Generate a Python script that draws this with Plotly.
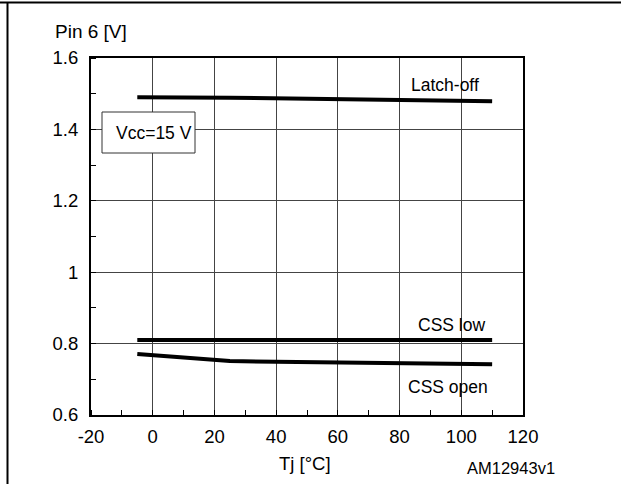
import plotly.graph_objects as go

# Data
temps_latch = [-5, 25, 110]
latch_off = [1.490, 1.489, 1.479]
temps_low = [-5, 25, 110]
css_low = [0.810, 0.810, 0.810]
temps_open = [-5, 25, 110]
css_open = [0.771, 0.751, 0.742]

x_ticks = [-20, 0, 20, 40, 60, 80, 100, 120]
x_ticktext = ["-20", "0", "20", "40", "60", "80", "100", "120"]
y_ticks = [0.6, 0.8, 1.0, 1.2, 1.4, 1.6]
y_ticktext = ["0.6", "0.8", "1", "1.2", "1.4", "1.6"]

W, H = 621, 484
L, R, T, B = 91, 98, 58, 69
PW, PH = W - L - R, H - T - B

def px(x):
    return (x - L) / PW

def py(y):
    return (H - B - y) / PH

FONT = "Arial, Liberation Sans, sans-serif"
line_style = dict(color="black", width=4)

fig = go.Figure()
for xs, ys, name in [(temps_latch, latch_off, "Latch-off"),
                     (temps_low, css_low, "CSS low"),
                     (temps_open, css_open, "CSS open")]:
    fig.add_trace(go.Scatter(x=xs, y=ys, mode="lines", name=name,
                             line=line_style, showlegend=False))

fig.update_xaxes(range=[-20, 120], tickvals=x_ticks, ticktext=x_ticktext,
                 showgrid=True, gridcolor="#444", gridwidth=1, showline=True,
                 linecolor="black", linewidth=2, mirror=True, ticks="",
                 zeroline=False,
                 tickfont=dict(family=FONT, size=18.5, color="black"),
                 ticklabelstandoff=4,
                 minor=dict(dtick=10, tick0=-20, ticks="inside", ticklen=5,
                            tickcolor="black", showgrid=False))
fig.update_yaxes(range=[0.6, 1.6], tickvals=y_ticks, ticktext=y_ticktext,
                 showgrid=True, gridcolor="#444", gridwidth=1, showline=True,
                 linecolor="black", linewidth=2, mirror=True, ticks="",
                 zeroline=False,
                 tickfont=dict(family=FONT, size=18.5, color="black"),
                 ticklabelstandoff=7,
                 minor=dict(dtick=0.1, tick0=0.6, ticks="inside", ticklen=5,
                            tickcolor="black", showgrid=False))

annots = [
    ("Pin 6 [V]", 91, 31, 19),
    ("Latch-off", 445, 85, 17.5),
    ("CSS low", 451, 325, 17.5),
    ("CSS open", 448, 387, 17.5),
    ("Tj [°C]", 305, 463, 18.5),
    ("AM12943v1", 511, 468, 16.5),
    ("Vcc=15 V", 154, 133, 17.5),
]
for text, x, y, s in annots:
    fig.add_annotation(text=text, x=px(x), y=py(y), xref="paper", yref="paper",
                       showarrow=False, xanchor="center", yanchor="middle",
                       font=dict(family=FONT, size=s, color="black"))

# Vcc box
fig.add_shape(type="rect", xref="paper", yref="paper",
              x0=px(102), x1=px(195), y0=py(153), y1=py(112),
              line=dict(color="#333", width=1), fillcolor="white", layer="above")
# outer frame (top and left)
fig.add_shape(type="line", xref="paper", yref="paper",
              x0=px(0), x1=px(W + 60), y0=py(2.5), y1=py(2.5),
              line=dict(color="black", width=2))
fig.add_shape(type="line", xref="paper", yref="paper",
              x0=px(7.5), x1=px(7.5), y0=py(2.5), y1=py(H + 60),
              line=dict(color="black", width=2))

fig.update_layout(width=W, height=H, margin=dict(l=L, r=R, t=T, b=B),
                  plot_bgcolor="white", paper_bgcolor="white",
                  font=dict(family=FONT, color="black"))

fig.write_html("out.html", config={"displayModeBar": False},
               post_script="document.body.style.margin='0';"
                           "document.body.style.overflow='hidden';"
                           "document.documentElement.style.overflow='hidden';")
